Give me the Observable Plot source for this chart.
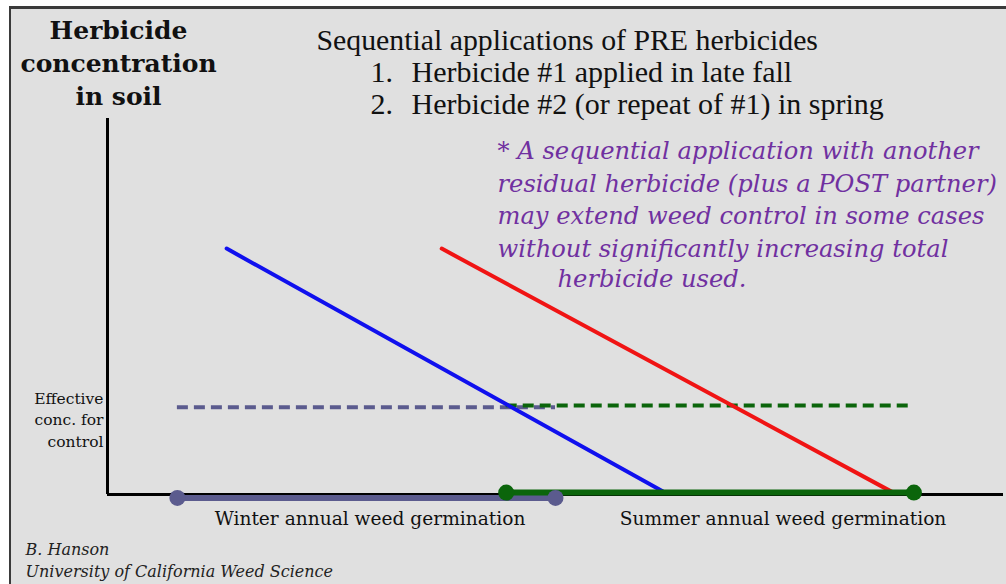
<!DOCTYPE html>
<html>
<head>
<meta charset="utf-8">
<script src="https://cdn.jsdelivr.net/npm/d3@7"></script>
<script src="https://cdn.jsdelivr.net/npm/@observablehq/plot@0.6"></script>
<style>
  html, body { margin: 0; padding: 0; background: #ffffff; }
  #wrap { position: relative; width: 1006px; height: 584px; overflow: hidden; }
  #wrap svg { position: absolute; left: 0; top: 0; }
  .edge { position: absolute; background: #ffffff; }
  .line { position: absolute; background: #3a3a3a; }
</style>
</head>
<body>
<div id="wrap"></div>
<script>
// ---- data (time in arbitrary season units, concentration in % of applied) ----
const herbicides = ["Herbicide #1 (late fall)", "Herbicide #2 (spring)"];
const herbColors = ["#1010ee", "#f01414"];
const applyTime = [13.3, 37.3];
const applyConc = [65.4, 65.4];
const goneTime = [62.0, 87.7];
const goneConc = [0.8, 0.5];

const windows = ["Winter annual weed germination", "Summer annual weed germination"];
const windowColors = ["#5b5b8e", "#0b650b"];
const windowStart = [7.8, 44.5];
const windowEnd = [50.0, 90.0];
const windowLevel = [-0.9, 0.5];
const effectiveConc = [23.2, 23.7];
const labelTime = [29.3, 75.4];

const yLabel = "Herbicide\nconcentration\nin soil";
const effLabel = "Effective\nconc. for\ncontrol";
const titleLine = "Sequential applications of PRE herbicides";
const listNums = "1.\n2.";
const listItems = "Herbicide #1 applied in late fall\nHerbicide #2 (or repeat of #1) in spring";
const noteLines = "* A sequential application with another\nresidual herbicide (plus a POST partner)\nmay extend weed control in some cases\nwithout significantly increasing total";
const noteLast = "herbicide used.";
const credit = "B. Hanson\nUniversity of California Weed Science";

// ---- tables built from the arrays ----
const decay = herbicides.flatMap((h, i) => [
  {h, t: applyTime[i], c: applyConc[i]},
  {h, t: goneTime[i], c: goneConc[i]}
]);
const win = windows.map((w, i) => ({
  w, x1: windowStart[i], x2: windowEnd[i], y: windowLevel[i], eff: effectiveConc[i], lx: labelTime[i]
}));
const winDots = win.flatMap(d => [{w: d.w, x: d.x1, y: d.y}, {w: d.w, x: d.x2, y: d.y}]);

const serif = "'DejaVu Serif', serif";
const times = "'Liberation Serif', serif";

const plot = Plot.plot({
  width: 1006,
  height: 584,
  margin: 0,
  x: {domain: [0, 100], range: [107, 1003], axis: null},
  y: {domain: [0, 100], range: [494, 118], axis: null},
  color: {domain: windows, range: windowColors},
  style: {background: "#e0e0e0", fontFamily: serif, overflow: "visible"},
  marks: [
    // axes
    Plot.ruleX([0], {y1: 0, y2: 100, stroke: "#000", strokeWidth: 3}),
    Plot.ruleY([0], {x1: 0, x2: 100, stroke: "#000", strokeWidth: 3}),
    // effective concentration thresholds
    Plot.ruleY(win, {y: "eff", x1: "x1", x2: "x2", stroke: "w", strokeWidth: 4, strokeDasharray: "11,6"}),
    // decay lines
    Plot.line(decay, {x: "t", y: "c", z: "h", stroke: d => herbColors[herbicides.indexOf(d.h)], strokeWidth: 4}),
    // germination windows
    Plot.ruleY(win, {y: "y", x1: "x1", x2: "x2", stroke: "w", strokeWidth: 6}),
    Plot.dot(winDots, {x: "x", y: "y", fill: "w", r: 8}),
    Plot.text(win, {x: "lx", y: 0, text: "w", dy: 25, fontSize: 18.6, fill: "#111", fontFamily: serif}),
    // y axis title
    Plot.text([yLabel], {frameAnchor: "top-left", dx: 118, dy: 61, text: d => d, lineAnchor: "middle",
      textAnchor: "middle", fontSize: 25, fontWeight: "bold", lineHeight: 1.32, fill: "#111"}),
    Plot.text([effLabel], {frameAnchor: "top-left", dx: 103, dy: 418, text: d => d, lineAnchor: "middle",
      textAnchor: "end", fontSize: 15.5, lineHeight: 1.4, fill: "#111", fontFamily: serif}),
    // title block
    Plot.text([titleLine], {frameAnchor: "top-left", dx: 316, dy: 40, text: d => d, lineAnchor: "middle",
      textAnchor: "start", fontSize: 29.8, fill: "#111", fontFamily: times}),
    Plot.text([listNums], {frameAnchor: "top-left", dx: 370, dy: 87, text: d => d, lineAnchor: "middle",
      textAnchor: "start", fontSize: 30, lineHeight: 1.067, fill: "#111", fontFamily: times}),
    Plot.text([listItems], {frameAnchor: "top-left", dx: 411, dy: 87, text: d => d, lineAnchor: "middle",
      textAnchor: "start", fontSize: 30, lineHeight: 1.067, fill: "#111", fontFamily: times}),
    // note
    Plot.text([noteLines], {frameAnchor: "top-left", dx: 497, dy: 197, text: d => d, lineAnchor: "middle",
      textAnchor: "start", fontSize: 24.2, fontStyle: "italic", lineHeight: 1.35, fill: "#7030a0"}),
    Plot.text([noteLast], {frameAnchor: "top-left", dx: 557, dy: 279, text: d => d, lineAnchor: "middle",
      textAnchor: "start", fontSize: 24.2, fontStyle: "italic", fill: "#7030a0"}),
    // credit
    Plot.text([credit], {frameAnchor: "top-left", dx: 25, dy: 558, text: d => d, lineAnchor: "middle",
      textAnchor: "start", fontSize: 16, fontStyle: "italic", lineHeight: 1.38, fill: "#222", fontFamily: serif})
  ]
});

const wrap = document.getElementById("wrap");
wrap.appendChild(plot);
// slide frame: white margin with dark edge at top and left
[["edge", 0, 0, 1006, 6], ["edge", 0, 0, 9, 584], ["line", 9, 6, 997, 3], ["line", 9, 6, 2, 578]]
  .forEach(([cls, l, t, w, h]) => {
    const d = document.createElement("div");
    d.className = cls;
    Object.assign(d.style, {left: l + "px", top: t + "px", width: w + "px", height: h + "px"});
    wrap.appendChild(d);
  });
</script>
</body>
</html>
